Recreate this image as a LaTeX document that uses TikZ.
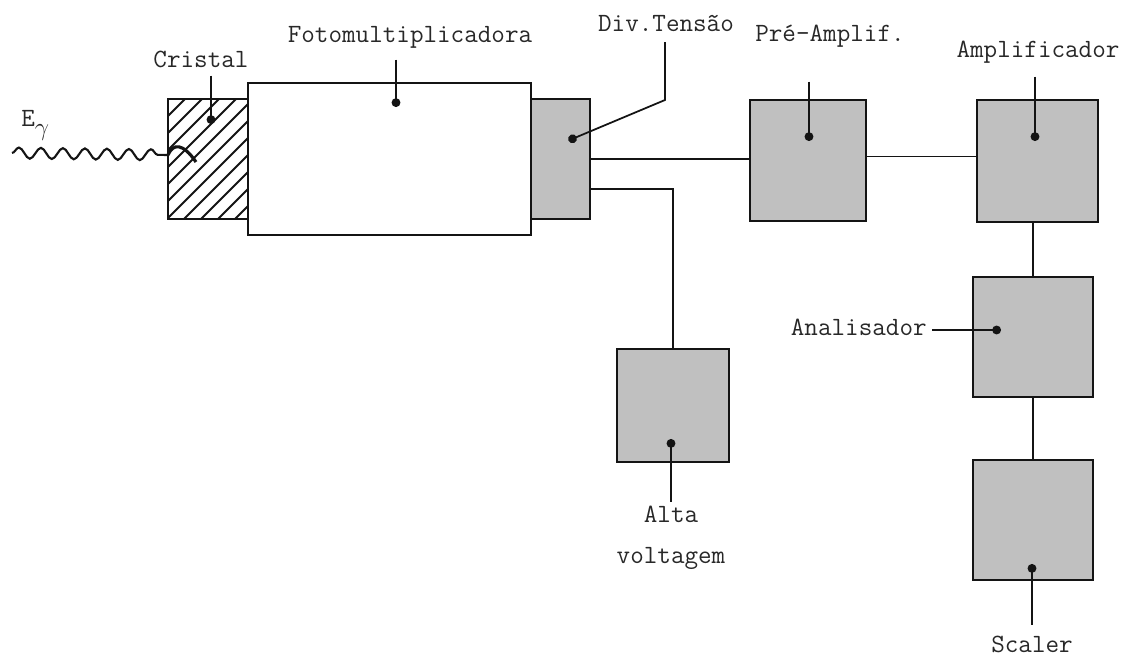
\documentclass[tikz,border=0pt]{standalone}
\usepackage{tikz}
\usetikzlibrary{arrows.meta, positioning, calc, decorations.pathmorphing}
\definecolor{clrBox}{RGB}{192,192,192}
\definecolor{clrLn} {RGB}{ 20, 20, 20}
\definecolor{clrTx} {RGB}{ 40, 40, 40}

\begin{document}
\begin{tikzpicture}[
  %% ── node styles ──────────────────────────────────────────────────────────
  gbox/.style = {rectangle, draw=clrLn, fill=clrBox, line width=1.5pt,
                 inner sep=0pt, outer sep=0pt,
                 minimum width=24mm, minimum height=24mm},
  wbox/.style = {rectangle, draw=clrLn, fill=white, line width=1.5pt,
                 inner sep=0pt, outer sep=0pt},
  xtal/.style = {wbox, path picture={
                   \foreach \i in {0,...,12}
                     \draw[line width=1.2pt, clrLn]
                       ([xshift=\i*3.4mm-24mm]path picture bounding box.south west)
                       -- ++(2.4,2.4);}},
  lbl/.style  = {font=\fontsize{15}{18}\selectfont\ttfamily, text=clrTx,
                 inner sep=0pt},
  %% ── line styles ──────────────────────────────────────────────────────────
  wire/.style  = {line width=1.1pt, color=clrLn},
  ptr/.style   = {line width=1pt, color=clrLn, -{Circle[length=5pt]}},
  photon/.style = {decorate, line width=1.2pt, color=clrLn,
                   decoration={snake, segment length=4.4mm, amplitude=1.1mm}},
]
\useasboundingbox (0,0) rectangle (22.68,-13.14);

%% ═══════════════════════════════════════════════════════════════════════════
%% DETECTOR: crystal, photomultiplier, voltage divider
%% ═══════════════════════════════════════════════════════════════════════════
\node[xtal, minimum width=16mm, minimum height=24mm] (cry) at (4.16,-3.18) {};
\node[wbox, minimum width=56.6mm, minimum height=30.4mm, right=0pt of cry] (pmt) {};
\node[gbox, minimum width=11.8mm, right=0pt of pmt] (div) {};

%% ═══════════════════════════════════════════════════════════════════════════
%% ELECTRONICS
%% ═══════════════════════════════════════════════════════════════════════════
\node[gbox, minimum width=23.2mm, minimum height=24.2mm] (pre) at (16.16,-3.21) {};
\node[gbox, minimum width=24.2mm, minimum height=24.4mm] (amp) at (20.75,-3.22) {};
\node[gbox] (ana) at (20.66,-6.74) {};
\node[gbox, below=12.6mm of ana] (scl) {};
\node[gbox, minimum width=22.4mm, minimum height=22.6mm] (hv) at (13.46,-8.11) {};

%% ── wires ─────────────────────────────────────────────────────────────────
\draw[wire] (div.east) -- (div.east -| pre.west);
\draw[wire] ($(pre.east)+(0,0.08)$) -- ($(pre.east -| amp.west)+(0,0.08)$);
\draw[wire] ($(div.south east)!0.25!(div.north east)$) -| (hv.north);
\draw[wire] (ana.north |- amp.south) -- (ana.north);
\draw[wire] (ana.south) -- (ana.south |- scl.north);

%% ── incoming gamma ray ────────────────────────────────────────────────────
\coordinate (src)  at (0.24,-3.06);
\coordinate (wend) at (3.36,-3.10);
\draw[photon] (src) -- (wend);
\draw[line width=1.8pt, clrLn] (wend) .. controls (3.46,-2.86) and (3.66,-2.86) .. (3.92,-3.24);
\node[lbl, anchor=base west] (egam) at (0.42,-2.54) {E\raisebox{-5pt}{$\gamma$}};

%% ── labels ────────────────────────────────────────────────────────────────
\node[lbl, anchor=base] (cryl) at (4.02,-1.36)  {Cristal};
\node[lbl, anchor=base] (pmtl) at (8.20,-0.86)  {Fotomultiplicadora};
\node[lbl, anchor=base] (divl) at (13.32,-0.64) {Div.Tensão};
\node[lbl, anchor=base] (prel) at (16.60,-0.84) {Pré-Amplif.};
\node[lbl, anchor=base] (ampl) at (20.76,-1.16) {Amplificador};
\node[lbl, anchor=base east] (anal) at (18.54,-6.70) {Analisador};
\node[lbl, anchor=base] (hvl1) at (13.42,-10.44) {Alta};
\node[lbl, anchor=base] (hvl2) at (13.42,-11.26) {voltagem};
\node[lbl, anchor=base] (scll) at (20.64,-13.04) {Scaler};

%% ── pointer lines ─────────────────────────────────────────────────────────
\coordinate (cryd) at (4.22,-2.48);
\coordinate (pmtd) at (7.92,-2.14);
\coordinate (divk) at (13.30,-2.00);
\coordinate (divd) at (11.37,-2.81);
\coordinate (pred) at (16.18,-2.82);
\coordinate (ampd) at (20.70,-2.82);
\coordinate (anad) at (20.02,-6.60);
\coordinate (hvd)  at (13.42,-8.78);
\coordinate (scld) at (20.64,-11.28);

\draw[ptr, shorten <=4pt]   (cryl.south -| cryd) -- (cryd);
\draw[ptr, shorten <=6pt]   (pmtl.south -| pmtd) -- (pmtd);
\draw[ptr, shorten <=5.5pt] (divl.south -| divk) -- (divk) -- (divd);
\draw[ptr, shorten <=19pt]  (prel.south -| pred) -- (pred);
\draw[ptr, shorten <=7pt]   (ampl.south -| ampd) -- (ampd);
\draw[ptr, shorten <=3pt]   (anal.east |- anad) -- (anad);
\draw[ptr, shorten <=2pt]   (hvl1.north -| hvd) -- (hvd);
\draw[ptr, shorten <=6pt]   (scll.north -| scld) -- (scld);

\end{tikzpicture}
\end{document}
